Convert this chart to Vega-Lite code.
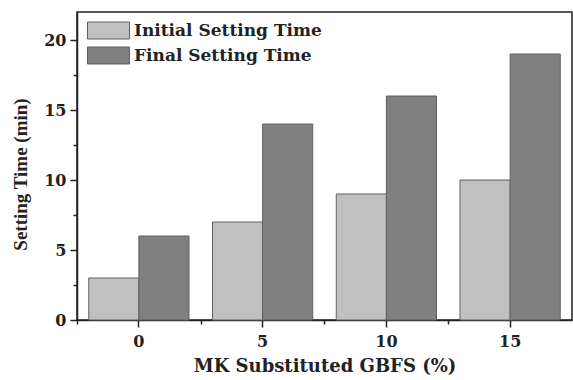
{
  "$schema": "https://vega.github.io/schema/vega-lite/v6.json",
  "autosize": {"type": "none"},
  "padding": {"left": 77, "top": 12, "right": 1, "bottom": 60},
  "width": 495,
  "height": 308,
  "data": {"values": [
    {"mk": "0", "series": "Initial Setting Time", "time": 3},
    {"mk": "0", "series": "Final Setting Time", "time": 6},
    {"mk": "5", "series": "Initial Setting Time", "time": 7},
    {"mk": "5", "series": "Final Setting Time", "time": 14},
    {"mk": "10", "series": "Initial Setting Time", "time": 9},
    {"mk": "10", "series": "Final Setting Time", "time": 16},
    {"mk": "15", "series": "Initial Setting Time", "time": 10},
    {"mk": "15", "series": "Final Setting Time", "time": 19}
  ]},
  "config": {
    "view": {"stroke": "#222", "strokeWidth": 1.5},
    "font": "DejaVu Serif",
    "axis": {"labelFont": "DejaVu Serif", "titleFont": "DejaVu Serif", "labelFontWeight": "bold", "titleFontWeight": "bold", "labelColor": "#222", "titleColor": "#222", "domainColor": "#222", "tickColor": "#222", "domainWidth": 1.5, "tickWidth": 1.5, "grid": false}
  },
  "resolve": {"axis": {"x": "independent", "y": "independent"}},
  "layer": [
    {
      "mark": {"type": "bar", "stroke": "#606060", "strokeWidth": 1},
      "encoding": {
        "x": {"field": "mk", "type": "ordinal", "sort": ["0", "5", "10", "15"],
          "scale": {"paddingInner": 0.19, "paddingOuter": 0.095},
          "axis": {"title": "MK Substituted GBFS (%)", "orient": "bottom", "labelAngle": 0, "labelFontSize": 16, "titleFontSize": 18, "tickSize": 7, "labelPadding": 6, "titlePadding": 8}},
        "xOffset": {"field": "series", "type": "nominal", "sort": ["Initial Setting Time", "Final Setting Time"]},
        "y": {"field": "time", "type": "quantitative",
          "scale": {"domain": [0, 22], "nice": false},
          "axis": {"title": "Setting Time (min)", "orient": "left", "values": [0, 5, 10, 15, 20], "labelFontSize": 16, "titleFont": "Liberation Serif", "titleFontSize": 19, "tickSize": 7, "labelPadding": 4, "titleX": -47, "titleY": 162}},
        "color": {"field": "series", "type": "nominal", "sort": ["Initial Setting Time", "Final Setting Time"],
          "scale": {"range": ["#c0c0c0", "#808080"]},
          "legend": {"title": null, "orient": "none", "legendX": 21, "legendY": 8, "labelFont": "DejaVu Serif", "labelFontWeight": "bold", "labelFontSize": 17, "labelLimit": 400, "labelColor": "#222", "symbolType": "M-2.1,-0.85L2.1,-0.85L2.1,0.85L-2.1,0.85Z", "symbolSize": 400, "symbolStrokeColor": "#606060", "symbolStrokeWidth": 1, "symbolOpacity": 1, "rowPadding": 4, "labelOffset": 15}}
      }
    },
    {
      "mark": {"type": "bar", "opacity": 0},
      "encoding": {
        "x": {"field": "mk", "type": "ordinal", "sort": ["0", "5", "10", "15"],
          "axis": {"title": null, "orient": "bottom", "labels": false, "domain": false, "tickSize": 4, "tickOffset": -62}},
        "y": {"field": "time", "type": "quantitative",
          "axis": {"title": null, "orient": "left", "labels": false, "domain": false, "tickSize": 4, "values": [2.5, 7.5, 12.5, 17.5]}}
      }
    }
  ]
}
